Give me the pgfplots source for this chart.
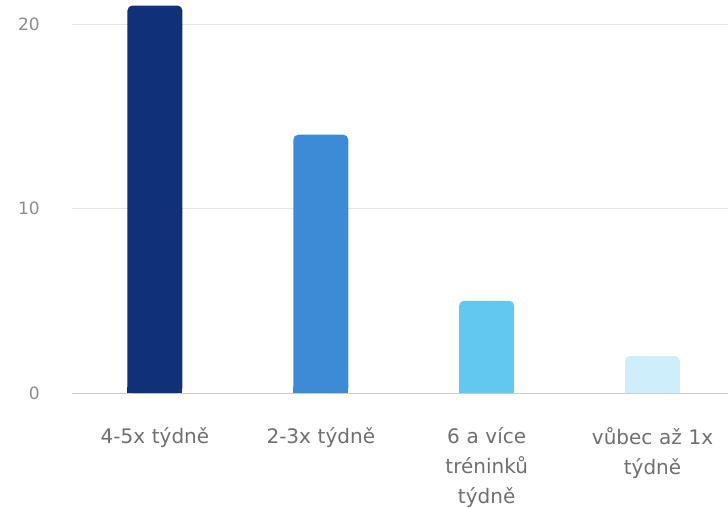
\documentclass[border=0pt]{standalone}
\usepackage{pgfplots}
\pgfplotsset{compat=1.18}
\usepackage{fontspec}
\setmainfont{DejaVu Sans}
\definecolor{barA}{RGB}{16,48,122}
\definecolor{barB}{RGB}{61,138,214}
\definecolor{barC}{RGB}{99,200,239}
\definecolor{barD}{RGB}{205,238,250}
\definecolor{gridc}{RGB}{230,230,230}
\definecolor{basec}{RGB}{205,205,205}
\definecolor{txtc}{RGB}{112,112,112}
\definecolor{tickc}{RGB}{140,140,140}
\begin{document}
\begin{tikzpicture}[x=1pt,y=1pt]
\useasboundingbox (0,0) rectangle (728,507);
\begin{axis}[
  at={(72pt,114pt)}, anchor=south west,
  scale only axis, width=656pt, height=393pt,
  xmin=-0.5, xmax=3.455, ymin=0, ymax=21.3,
  axis x line*=bottom, axis y line*=left,
  x axis line style={draw=basec, -},
  y axis line style={draw=none},
  ytick={0,10,20}, ymajorgrids,
  major grid style={draw=gridc, line width=0.8pt},
  major tick length=0pt,
  xtick={0,1,2,3},
  xticklabels={4-5x týdně, 2-3x týdně, 6 a více\\tréninků\\týdně, vůbec až 1x\\týdně},
  xticklabel style={anchor=north, inner sep=0pt, yshift=-34pt, align=center, text width=140pt,
    font=\fontsize{20}{30}\selectfont, text=txtc},
  yticklabel style={anchor=east, inner sep=0pt, xshift=-32pt,
    font=\fontsize{17}{20}\selectfont, text=tickc},
  /pgf/number format/assume math mode=true,
  clip=true,
]
\addplot[ybar, bar width=55pt, bar shift=0pt, fill=barA, draw=none, rounded corners=5pt] coordinates {(0,21)};
\addplot[ybar, bar width=55pt, bar shift=0pt, fill=barB, draw=none, rounded corners=5pt] coordinates {(1,14)};
\addplot[ybar, bar width=55pt, bar shift=0pt, fill=barC, draw=none, rounded corners=5pt] coordinates {(2,5)};
\addplot[ybar, bar width=55pt, bar shift=0pt, fill=barD, draw=none, rounded corners=5pt] coordinates {(3,2)};
\begin{scope}
\clip (axis cs:-0.5,0) rectangle (axis cs:3.455,0.3);
\addplot[ybar, bar width=55pt, bar shift=0pt, fill=barA, draw=none] coordinates {(0,21)};
\addplot[ybar, bar width=55pt, bar shift=0pt, fill=barB, draw=none] coordinates {(1,14)};
\addplot[ybar, bar width=55pt, bar shift=0pt, fill=barC, draw=none] coordinates {(2,5)};
\addplot[ybar, bar width=55pt, bar shift=0pt, fill=barD, draw=none] coordinates {(3,2)};
\end{scope}
\end{axis}
\end{tikzpicture}
\end{document}
